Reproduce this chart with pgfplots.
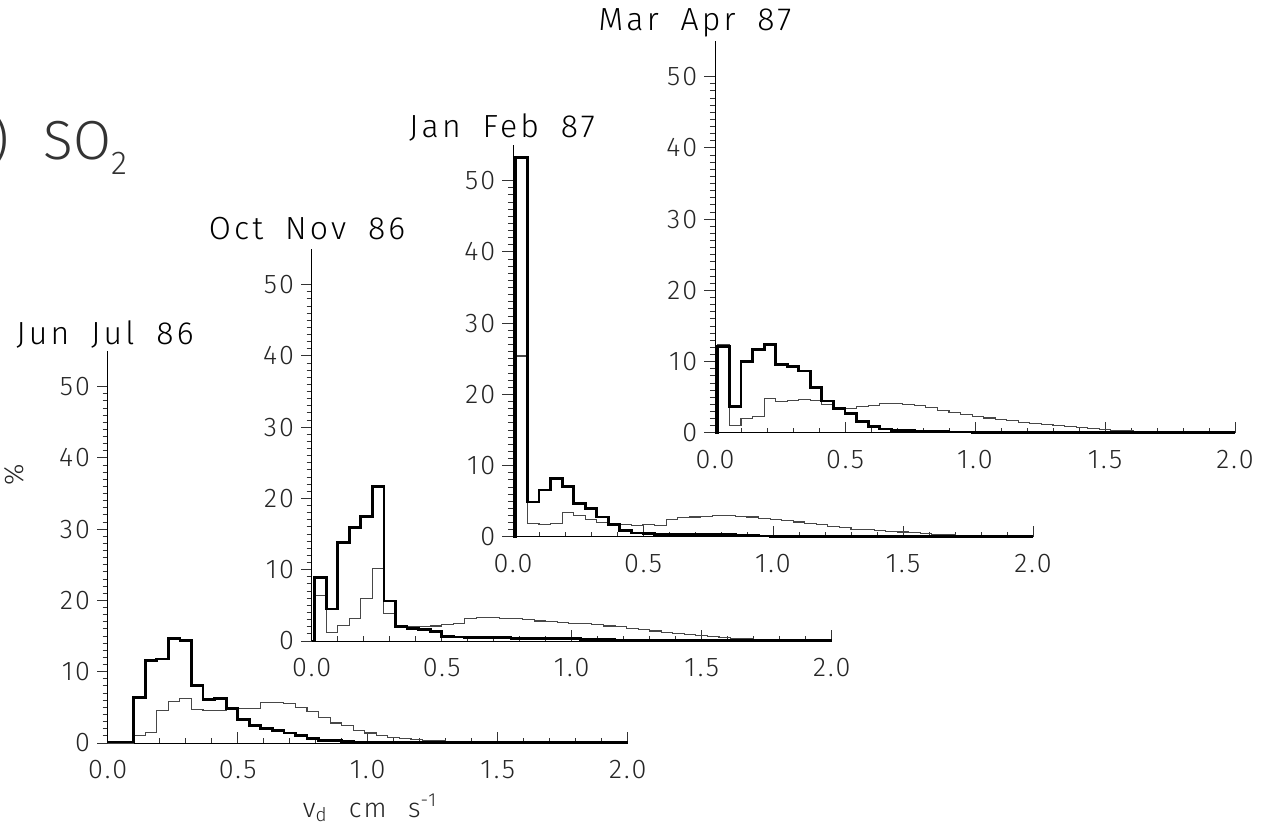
\documentclass[border=0pt]{standalone}
\usepackage{pgfplots}
\pgfplotsset{compat=1.18}
\usepackage{pgfplotstable}
\usepackage{fontspec}
\setmainfont{Fira Sans}[UprightFont={* Light}]
\newfontfamily\lbl{Fira Sans}[UprightFont={* Light},LetterSpace=8,WordSpace=2.2]
\newfontfamily\ttl{Fira Sans}[UprightFont={* Light},LetterSpace=10,WordSpace=1.8]
\newcommand\tickfont{\lbl\fontsize{13.5}{15}\selectfont}
\newcommand\titlefont{\ttl\fontsize{16}{18}\selectfont}

\pgfplotstableread{
x thick thin
0 0.15 0
0.0111 0.15 0
0.0556 0.15 0
0.1000 6.4 1.0
0.1444 11.6 1.5
0.1889 11.8 4.5
0.2333 14.7 5.8
0.2778 14.4 6.3
0.3222 8.1 4.7
0.3667 6.1 4.5
0.4111 6.3 4.6
0.4556 4.8 4.8
0.5000 3.3 4.9
0.5444 2.4 4.8
0.5889 2.0 5.7
0.6333 1.7 5.7
0.6778 1.4 5.5
0.7222 1.1 5.0
0.7667 0.6 4.4
0.8111 0.4 3.6
0.8556 0.3 2.8
0.9000 0.2 2.4
0.9444 0.15 1.8
0.9889 0.1 1.4
1.0333 0.1 1.1
1.0778 0.05 0.8
1.1222 0.05 0.6
1.1667 0.05 0.5
1.2111 0.05 0.4
1.2556 0.05 0.3
1.3000 0.05 0.2
1.3444 0.05 0.15
1.3889 0.05 0.1
1.4333 0.05 0.1
1.4778 0.05 0.05
1.5222 0.05 0.05
1.5667 0.05 0.05
1.6111 0.05 0.05
1.6556 0.05 0.05
1.7000 0.05 0.05
1.7444 0.05 0.05
1.7889 0.05 0.05
1.8333 0.05 0.05
1.8778 0.05 0.05
1.9222 0.05 0.05
1.9667 0.05 0.05
2.0000 0.05 0.05
}\junjul

\pgfplotstableread{
x thick thin
0 0 0
0.0111 8.9 6.4
0.0556 4.5 1.2
0.1000 13.8 2.2
0.1444 15.9 3.2
0.1889 17.5 6.0
0.2333 21.7 10.2
0.2778 5.6 3.8
0.3222 2.0 2.1
0.3667 1.8 2.0
0.4111 1.6 2.0
0.4556 1.3 2.1
0.5000 0.6 2.3
0.5444 0.55 2.5
0.5889 0.5 3.2
0.6333 0.5 3.3
0.6778 0.45 3.3
0.7222 0.45 3.2
0.7667 0.4 3.1
0.8111 0.4 3.0
0.8556 0.35 2.8
0.9000 0.35 2.7
0.9444 0.3 2.6
0.9889 0.3 2.5
1.0333 0.25 2.4
1.0778 0.2 2.3
1.1222 0.2 2.1
1.1667 0.15 2.0
1.2111 0.1 1.8
1.2556 0.1 1.6
1.3000 0.05 1.4
1.3444 0.05 1.2
1.3889 0.05 1.1
1.4333 0.05 0.9
1.4778 0.05 0.8
1.5222 0.05 0.6
1.5667 0.05 0.5
1.6111 0.05 0.35
1.6556 0.05 0.3
1.7000 0.05 0.2
1.7444 0.05 0.15
1.7889 0.05 0.1
1.8333 0.05 0.05
1.8778 0.05 0.05
1.9222 0.05 0.05
1.9667 0.05 0.05
2.0000 0.05 0.05
}\octnov

\pgfplotstableread{
x thick thin
0 0 0
0.0111 53.3 25.4
0.0556 4.9 1.9
0.1000 6.6 1.7
0.1444 8.2 1.9
0.1889 7.1 3.4
0.2333 4.7 3.0
0.2778 4.0 2.5
0.3222 2.8 2.0
0.3667 1.8 1.8
0.4111 0.9 1.7
0.4556 0.55 1.6
0.5000 0.45 1.7
0.5444 0.4 1.6
0.5889 0.4 2.5
0.6333 0.35 2.7
0.6778 0.35 2.8
0.7222 0.35 2.9
0.7667 0.3 3.0
0.8111 0.3 3.0
0.8556 0.25 2.9
0.9000 0.2 2.8
0.9444 0.15 2.6
0.9889 0.1 2.5
1.0333 0.1 2.3
1.0778 0.05 2.1
1.1222 0.05 1.9
1.1667 0.05 1.7
1.2111 0.05 1.5
1.2556 0.05 1.3
1.3000 0.05 1.1
1.3444 0.05 1.0
1.3889 0.05 0.9
1.4333 0.05 0.8
1.4778 0.05 0.7
1.5222 0.05 0.6
1.5667 0.05 0.5
1.6111 0.05 0.4
1.6556 0.05 0.3
1.7000 0.05 0.25
1.7444 0.05 0.2
1.7889 0.05 0.15
1.8333 0.05 0.1
1.8778 0.05 0.05
1.9222 0.05 0.05
1.9667 0.05 0.05
2.0000 0.05 0.05
}\janfeb

\pgfplotstableread{
x thick thin
0 0 0
0.0111 12.1 12.4
0.0556 3.7 1.0
0.1000 10.0 2.0
0.1444 11.7 2.3
0.1889 12.4 4.8
0.2333 9.6 4.4
0.2778 9.3 4.5
0.3222 8.7 4.7
0.3667 6.4 4.5
0.4111 4.5 4.0
0.4556 3.4 3.6
0.5000 2.7 3.5
0.5444 1.6 3.7
0.5889 0.9 3.9
0.6333 0.55 4.2
0.6778 0.35 4.2
0.7222 0.3 4.0
0.7667 0.25 3.8
0.8111 0.2 3.6
0.8556 0.2 3.2
0.9000 0.15 2.9
0.9444 0.15 2.6
0.9889 0.1 2.3
1.0333 0.05 2.1
1.0778 0.05 1.9
1.1222 0.05 1.7
1.1667 0.05 1.5
1.2111 0.05 1.35
1.2556 0.05 1.2
1.3000 0.05 1.0
1.3444 0.05 0.85
1.3889 0.05 0.75
1.4333 0.05 0.65
1.4778 0.05 0.5
1.5222 0.05 0.4
1.5667 0.05 0.3
1.6111 0.05 0.2
1.6556 0.05 0.15
1.7000 0.05 0.1
1.7444 0.05 0.05
1.7889 0.05 0.05
1.8333 0.05 0.05
1.8778 0.05 0.05
1.9222 0.05 0.05
1.9667 0.05 0.05
2.0000 0.05 0.05
}\marapr

\pgfplotsset{
  panel/.style={
    anchor=south west,
    scale only axis, width=260pt, height=196pt,
    xmin=0, xmax=2, ymin=0, ymax=55,
    axis lines*=left,
    xtick={0,0.5,1,1.5,2}, minor x tick num=4,
    ytick={0,10,20,30,40,50}, minor y tick num=9,
    tick align=outside,
    major tick length=5.3pt, minor tick length=2.6pt,
    every major x tick/.append style={yshift=5.3pt},
    every minor x tick/.append style={yshift=2.6pt},
    /pgf/number format/assume math mode=true,
    xticklabel style={/pgf/number format/fixed, /pgf/number format/fixed zerofill, /pgf/number format/precision=1},
    tick label style={font=\tickfont, text=black!85},
    axis line style={line width=0.5pt, black},
    tick style={line width=0.5pt, black!80},
    clip=false,
  },
  thickline/.style={const plot, black, line width=1.4pt, line join=miter, mark=none},
  thinline/.style={const plot, black!72, line width=0.55pt, line join=miter, mark=none},
}

\begin{document}
\begin{tikzpicture}
\useasboundingbox (0,0) rectangle (634pt,412.5pt);
\clip (0,0) rectangle (634pt,412.5pt);

% (a) SO2 label
\node[anchor=base west, inner sep=0pt, text=black!80, font=\fontsize{27.5}{30}\selectfont]
  at (21.5pt,332.5pt) {\llap{(a)\hspace{17pt}}SO\raisebox{-7.5pt}{\fontsize{16.5}{18}\selectfont 2}};

\begin{axis}[panel, at={(53.85pt,41pt)}]
\addplot[thinline] table[x=x,y=thin] {\junjul};
\addplot[thickline] table[x=x,y=thick] {\junjul};
\end{axis}

\begin{axis}[panel, at={(155.85pt,92pt)}]
\addplot[thinline] table[x=x,y=thin] {\octnov};
\addplot[thickline] table[x=x,y=thick] {\octnov};
\end{axis}

\begin{axis}[panel, at={(256.5pt,144pt)}]
\addplot[thinline] table[x=x,y=thin] {\janfeb};
\addplot[thickline] table[x=x,y=thick] {\janfeb};
\end{axis}

\begin{axis}[panel, at={(357.5pt,196pt)}]
\addplot[thinline] table[x=x,y=thin] {\marapr};
\addplot[thickline] table[x=x,y=thick] {\marapr};
\end{axis}

% panel titles
\node[anchor=base, inner sep=0pt, font=\titlefont] at (52.5pt,240pt) {Jun Jul 86};
\node[anchor=base, inner sep=0pt, font=\titlefont] at (153.5pt,292.5pt) {Oct Nov 86};
\node[anchor=base, inner sep=0pt, font=\titlefont] at (251pt,343.5pt) {Jan Feb 87};
\node[anchor=base, inner sep=0pt, font=\titlefont] at (347.5pt,397pt) {Mar Apr 87};

% axis labels
\node[rotate=90, inner sep=0pt, font=\tickfont, text=black!85] at (7pt,175pt) {\%};
\node[inner sep=0pt, font=\tickfont, text=black!85] at (185pt,8.5pt)
  {v\textsubscript{d} cm s\textsuperscript{-1}};
\end{tikzpicture}
\end{document}
